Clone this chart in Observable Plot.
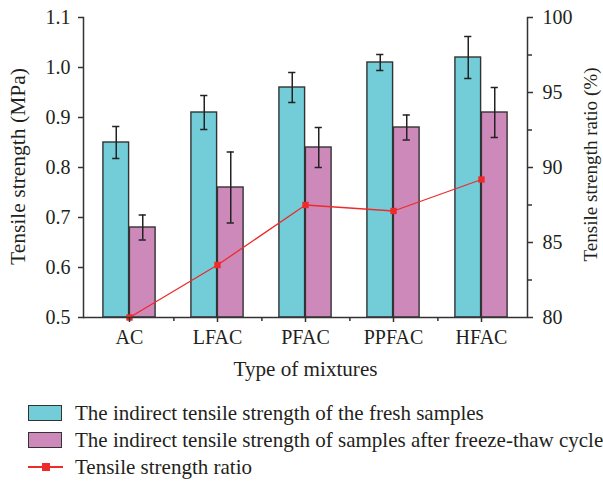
<!DOCTYPE html>
<html>
<head>
<meta charset="utf-8">
<script src="https://cdn.jsdelivr.net/npm/d3@7"></script>
<script src="https://cdn.jsdelivr.net/npm/@observablehq/plot@0.6"></script>
<style>
  html, body { margin: 0; padding: 0; background: #fff; }
  #wrap { position: relative; width: 603px; height: 481px; font-family: "Liberation Serif", serif; color: #231f20; }
  .lg { position: absolute; left: 0; font-size: 21px; line-height: 24px; white-space: nowrap; }
  .sw { position: absolute; left: 28px; width: 32px; height: 14px; border: 1.5px solid #333; }
  .lt { position: absolute; left: 75px; top: 0; }
</style>
</head>
<body>
<div id="wrap">
  <div id="chart"></div>
</div>
<script>
const categories = ["AC", "LFAC", "PFAC", "PPFAC", "HFAC"];
const fresh = [0.85, 0.91, 0.96, 1.01, 1.02];
const freshErr = [0.032, 0.034, 0.030, 0.016, 0.042];
const thawed = [0.68, 0.76, 0.84, 0.88, 0.91];
const thawedErr = [0.025, 0.071, 0.040, 0.025, 0.050];
const ratio = [80.0, 83.5, 87.5, 87.1, 89.2];
const leftTicks = [0.5, 0.6, 0.7, 0.8, 0.9, 1.0, 1.1];
const rightTicks = [80, 85, 90, 95, 100];
const rightMinor = [82.5, 87.5, 92.5, 97.5];
const seriesNames = [
  "The indirect tensile strength of the fresh samples",
  "The indirect tensile strength of samples after freeze-thaw cycle",
  "Tensile strength ratio"
];
const axisTitles = ["Tensile strength (MPa)", "Tensile strength ratio (%)", "Type of mixtures"];

const cyan = "#72cdd8", pink = "#cd89ba", red = "#ee2a2a", ink = "#333";
const toY = r => 0.5 + (r - 80) * 0.03;
const fromY = v => Math.round((v - 0.5) / 0.03 + 80);

const rows = categories.map((c, i) => ({
  cat: c, fresh: fresh[i], freshErr: freshErr[i],
  thawed: thawed[i], thawedErr: thawedErr[i], ratio: ratio[i]
}));

const W = 603, H = 390, ML = 83, MR = 76, MT = 17, MB = H - 317;
const bw = (W - ML - MR) / categories.length;
const half = bw / 2, barW = 26.5, off = barW / 2, cap = 4;

const chart = Plot.plot({
  width: W, height: H,
  marginLeft: ML, marginRight: MR, marginTop: MT, marginBottom: MB,
  style: {fontFamily: "Liberation Serif, serif", fontSize: "20px", color: "#231f20", background: "white", overflow: "visible"},
  x: {type: "band", domain: categories, padding: 0, axis: null},
  y: {domain: [0.5, 1.1], axis: null},
  marks: [
    Plot.barY(rows, {x: "cat", y1: 0.5, y2: "fresh", fill: cyan, stroke: ink, strokeWidth: 1.4, insetLeft: half - barW, insetRight: half}),
    Plot.barY(rows, {x: "cat", y1: 0.5, y2: "thawed", fill: pink, stroke: ink, strokeWidth: 1.4, insetLeft: half, insetRight: half - barW}),
    Plot.ruleX(rows, {x: "cat", y1: d => d.fresh - d.freshErr, y2: d => d.fresh + d.freshErr, dx: -off, stroke: "#222", strokeWidth: 1.5}),
    Plot.ruleX(rows, {x: "cat", y1: d => d.thawed - d.thawedErr, y2: d => d.thawed + d.thawedErr, dx: off, stroke: "#222", strokeWidth: 1.5}),
    Plot.tickY(rows, {x: "cat", y: d => d.fresh + d.freshErr, dx: -off, insetLeft: half - cap, insetRight: half - cap, stroke: "#222", strokeWidth: 1.5}),
    Plot.tickY(rows, {x: "cat", y: d => d.fresh - d.freshErr, dx: -off, insetLeft: half - cap, insetRight: half - cap, stroke: "#222", strokeWidth: 1.5}),
    Plot.tickY(rows, {x: "cat", y: d => d.thawed + d.thawedErr, dx: off, insetLeft: half - cap, insetRight: half - cap, stroke: "#222", strokeWidth: 1.5}),
    Plot.tickY(rows, {x: "cat", y: d => d.thawed - d.thawedErr, dx: off, insetLeft: half - cap, insetRight: half - cap, stroke: "#222", strokeWidth: 1.5}),
    Plot.line(rows, {x: "cat", y: d => toY(d.ratio), stroke: red, strokeWidth: 1.3}),
    Plot.dot(rows, {x: "cat", y: d => toY(d.ratio), symbol: "square", r: 3.6, fill: red, stroke: null}),
    // axis lines
    Plot.ruleY([0.5], {stroke: ink, strokeWidth: 1.5}),
    Plot.frame({anchor: "left", stroke: ink, strokeWidth: 1.5}),
    Plot.frame({anchor: "right", stroke: ink, strokeWidth: 1.5}),
    // axes
    Plot.axisY({anchor: "left", ticks: leftTicks, tickFormat: d => d.toFixed(1), tickSize: 5, tickPadding: 8, label: null, stroke: ink, strokeWidth: 1.5, fontSize: 20}),
    Plot.axisY({anchor: "right", ticks: rightTicks.map(toY), tickFormat: fromY, tickSize: 5, tickPadding: 10, label: null, stroke: ink, strokeWidth: 1.5, fontSize: 20}),
    Plot.axisY({anchor: "right", ticks: rightMinor.map(toY), tickFormat: () => "", tickSize: 4, label: null, stroke: ink, strokeWidth: 1.5}),
    Plot.axisX({anchor: "bottom", tickSize: 5, tickPadding: 7, label: null, stroke: ink, strokeWidth: 1.5, fontSize: 20}),
    Plot.ruleX(categories.slice(0, -1), {x: d => d, y1: 0.5, y2: 0.492, dx: half, stroke: ink, strokeWidth: 1.5}),
    // axis titles
    Plot.text([axisTitles[0]], {frameAnchor: "left", rotate: -90, dx: -65, dy: -1, textAnchor: "middle", lineAnchor: "middle", fontSize: 20, fill: "#231f20"}),
    Plot.text([axisTitles[1]], {frameAnchor: "right", rotate: -90, dx: 63, dy: -3, textAnchor: "middle", lineAnchor: "middle", fontSize: 19.5, fill: "#231f20"}),
    Plot.text([axisTitles[2]], {frameAnchor: "bottom", dy: 52, textAnchor: "middle", lineAnchor: "middle", fontSize: 21, fill: "#231f20"})
  ]
});
document.getElementById("chart").appendChild(chart);

// fit axis-title text lengths to the reference's typeset widths
const titleLengths = [197, 194, 144];
d3.select(chart).selectAll('g[aria-label="text"]').each(function (_, i) {
  d3.select(this).selectAll("text")
    .attr("textLength", titleLengths[i])
    .attr("lengthAdjust", "spacingAndGlyphs");
});

// legend
const wrap = document.getElementById("wrap");
const centers = [413, 440, 467];
seriesNames.forEach((name, i) => {
  const row = document.createElement("div");
  row.className = "lg";
  row.style.top = (centers[i] - 12) + "px";
  row.style.width = "603px";
  row.style.height = "24px";
  if (i < 2) {
    const sw = document.createElement("div");
    sw.className = "sw";
    sw.style.top = "3.5px";
    sw.style.background = i === 0 ? cyan : pink;
    row.appendChild(sw);
  } else {
    const ln = document.createElement("div");
    ln.style.cssText = `position:absolute;left:28px;top:11.3px;width:35px;height:1.4px;background:${red}`;
    const sq = document.createElement("div");
    sq.style.cssText = `position:absolute;left:41.5px;top:8px;width:8px;height:8px;background:${red}`;
    row.appendChild(ln); row.appendChild(sq);
  }
  const t = document.createElement("div");
  t.className = "lt";
  t.textContent = name;
  row.appendChild(t);
  wrap.appendChild(row);
});
</script>
</body>
</html>
